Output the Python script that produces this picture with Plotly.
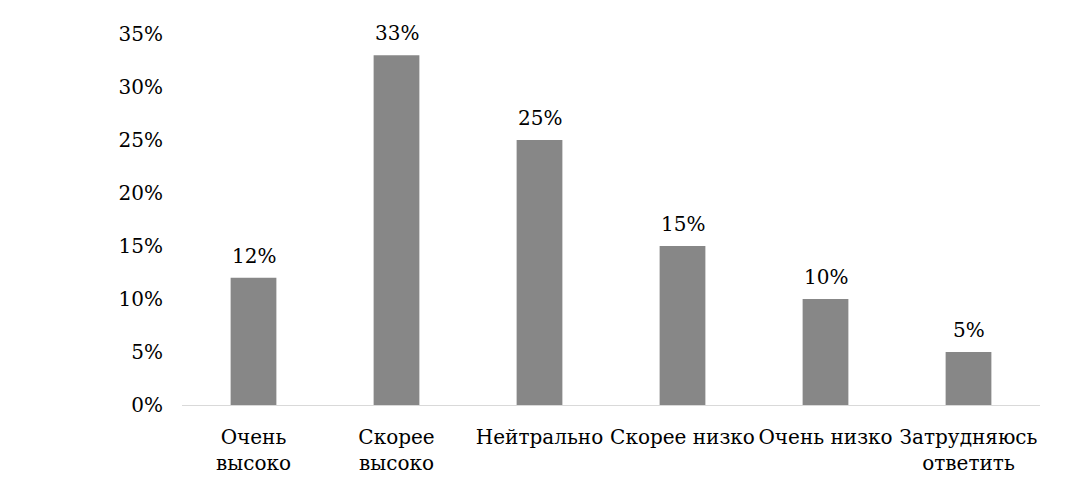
import plotly.graph_objects as go

# Оценка уровня (категории и доли ответов)
kategoriat = ["Очень<br>высоко", "Скорее<br>высоко", "Нейтрально",
              "Скорее низко", "Очень низко", "Затрудняюсь<br>ответить"]
osuudet = [0.12, 0.33, 0.25, 0.15, 0.10, 0.05]
y_ticks = [0, 0.05, 0.10, 0.15, 0.20, 0.25, 0.30, 0.35]
y_labels = ["0%", "5%", "10%", "15%", "20%", "25%", "30%", "35%"]

fontti = dict(family="DejaVu Serif", size=20, color="#000000")

fig = go.Figure()
fig.add_trace(go.Bar(x=kategoriat, y=osuudet, marker_color="#878787", marker_line_width=0))

# arvot pylväiden yläpuolelle
for k, v in zip(kategoriat, osuudet):
    fig.add_annotation(x=k, y=v, text=f"{round(v * 100)}%", showarrow=False,
                       yanchor="bottom", yshift=8, font=fontti)

# sivun oletusmarginaali 8px huomioitu
fig.update_layout(
    width=1089, height=493,
    margin=dict(l=174, r=57, t=26, b=96),
    paper_bgcolor="white", plot_bgcolor="white",
    font=fontti,
    bargap=0.68,
    showlegend=False,
    xaxis=dict(showgrid=False, zeroline=False, showline=True, linecolor="#d9d9d9",
               linewidth=1, ticks="", ticklabelstandoff=14, tickfont=fontti),
    yaxis=dict(range=[0, 0.35], tickvals=y_ticks, ticktext=y_labels, showgrid=False,
               zeroline=False, showline=False, ticks="", ticklabelstandoff=18,
               tickfont=fontti),
)

fig.write_html("out.html")
